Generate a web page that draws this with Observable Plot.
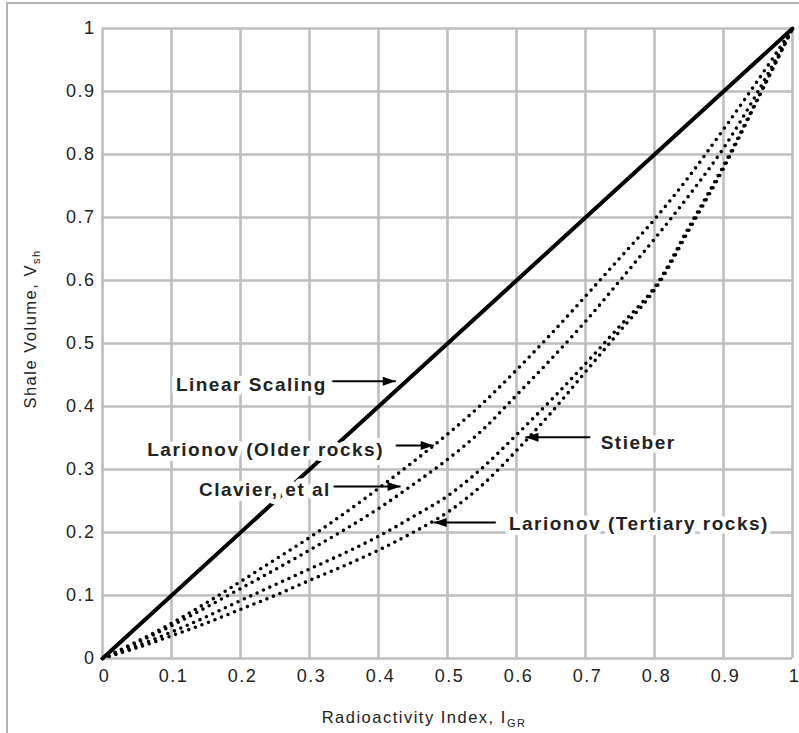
<!DOCTYPE html>
<html><head><meta charset="utf-8">
<script src="https://cdn.jsdelivr.net/npm/d3@7"></script>
<script src="https://cdn.jsdelivr.net/npm/@observablehq/plot@0.6"></script>
<style>
body{margin:0;background:#fff;}
#wrap{position:relative;width:799px;height:733px;overflow:hidden;background:#fff;}
#border{position:absolute;left:6px;top:2px;right:-4px;bottom:-4px;border-left:2px solid #b3b3b3;border-top:2px solid #b3b3b3;pointer-events:none;}
#wrap svg text{letter-spacing:1.5px;}
</style></head><body><div id="wrap"><div id="border"></div></div>
<script>
// ---- data ----
const xTicks = [0, 0.1, 0.2, 0.3, 0.4, 0.5, 0.6, 0.7, 0.8, 0.9, 1];
const xTickLabels = ["0", "0.1", "0.2", "0.3", "0.4", "0.5", "0.6", "0.7", "0.8", "0.9", "1"];
const yTicks = [0, 0.1, 0.2, 0.3, 0.4, 0.5, 0.6, 0.7, 0.8, 0.9, 1];
const yTickLabels = ["0", "0.1", "0.2", "0.3", "0.4", "0.5", "0.6", "0.7", "0.8", "0.9", "1"];

// Radioactivity index sample points
const igr = [0, 0.05, 0.1, 0.15, 0.2, 0.25, 0.3, 0.35, 0.4, 0.45, 0.5, 0.55, 0.6, 0.65, 0.7, 0.75, 0.8, 0.85, 0.9, 0.95, 1];
const linearX = [0, 1];
const linearScaling = [0, 1];
const larionovOlder = [0, 0.027, 0.056, 0.088, 0.122, 0.157, 0.192, 0.23, 0.27, 0.312, 0.356, 0.404, 0.458, 0.515, 0.575, 0.636, 0.697, 0.765, 0.84, 0.918, 1];
const clavier = [0, 0.025, 0.052, 0.081, 0.111, 0.141, 0.172, 0.204, 0.238, 0.276, 0.316, 0.362, 0.418, 0.475, 0.535, 0.6, 0.666, 0.735, 0.81, 0.9, 1];
const stieber = [0, 0.02, 0.042, 0.066, 0.092, 0.117, 0.142, 0.167, 0.194, 0.225, 0.258, 0.302, 0.355, 0.41, 0.468, 0.528, 0.589, 0.685, 0.782, 0.89, 1];
const larionovTertiary = [0, 0.017, 0.036, 0.056, 0.078, 0.1, 0.124, 0.147, 0.172, 0.2, 0.232, 0.275, 0.33, 0.39, 0.455, 0.52, 0.585, 0.68, 0.778, 0.888, 1];

// annotations
const annLabels = ["Linear Scaling", "Larionov (Older rocks)", "Clavier, et al", "Stieber", "Larionov (Tertiary rocks)"];
const annTextX = [0.325, 0.408, 0.331, 0.722, 0.589];
const annTextY = [0.435, 0.331, 0.268, 0.342, 0.214];
const annAnchor = ["end", "end", "end", "start", "start"];
const arrowTailX = [0.333, 0.425, 0.335, 0.707, 0.570];
const arrowHeadX = [0.425, 0.48, 0.432, 0.613, 0.48];
const arrowY = [0.44, 0.338, 0.273, 0.351, 0.216];
const arrowDir = ["right", "right", "right", "left", "left"];

// ---- chart ----
const triRight = {draw(ctx) { ctx.moveTo(0, 0); ctx.lineTo(-13, -4.5); ctx.lineTo(-13, 4.5); ctx.closePath(); }};
const triLeft = {draw(ctx) { ctx.moveTo(0, 0); ctx.lineTo(13, -4.5); ctx.lineTo(13, 4.5); ctx.closePath(); }};
const idx = annLabels.map((_, i) => i);
const dotted = {stroke: "#000", strokeWidth: 3.6, strokeDasharray: "0,7", strokeLinecap: "round", curve: "catmull-rom"};
const annStyle = {fontWeight: "bold", fontSize: 19, fill: "#222", stroke: "#fff", strokeWidth: 10, strokeLinejoin: "round"};

const fmtX = d => xTickLabels[xTicks.indexOf(d)];
const fmtY = d => yTickLabels[yTicks.indexOf(d)];

const chart = Plot.plot({
  width: 799,
  height: 733,
  marginLeft: 102,
  marginRight: 7,
  marginTop: 28,
  marginBottom: 75,
  style: {fontFamily: "'Liberation Sans', Arial, sans-serif", fontSize: "18px", color: "#222", background: "transparent", overflow: "visible"},
  x: {domain: [0, 1], label: null},
  y: {domain: [0, 1], label: null},
  marks: [
    Plot.gridX(xTicks, {stroke: "#bebebe", strokeOpacity: 1, strokeWidth: 2.6}),
    Plot.gridY(yTicks, {stroke: "#bebebe", strokeOpacity: 1, strokeWidth: 2.6}),
    Plot.axisX(xTicks, {tickSize: 0, tickPadding: 11, tickFormat: fmtX, label: null, fill: "#222", dx: 2}),
    Plot.axisY(yTicks, {tickSize: 0, tickPadding: 7, tickFormat: fmtY, label: null, fill: "#222"}),
    Plot.line(linearScaling, {x: (d, i) => linearX[i], y: d => d, stroke: "#000", strokeWidth: 4}),
    Plot.line(larionovOlder, {x: (d, i) => igr[i], y: d => d, ...dotted}),
    Plot.line(clavier, {x: (d, i) => igr[i], y: d => d, ...dotted}),
    Plot.line(stieber, {x: (d, i) => igr[i], y: d => d, ...dotted}),
    Plot.line(larionovTertiary, {x: (d, i) => igr[i], y: d => d, ...dotted}),
    Plot.text(idx.filter(i => annAnchor[i] === "end"), {x: i => annTextX[i], y: i => annTextY[i], text: i => annLabels[i], textAnchor: "end", ...annStyle}),
    Plot.text(idx.filter(i => annAnchor[i] === "start"), {x: i => annTextX[i], y: i => annTextY[i], text: i => annLabels[i], textAnchor: "start", ...annStyle}),
    Plot.link(idx, {x1: i => arrowTailX[i], x2: i => arrowHeadX[i], y1: i => arrowY[i], y2: i => arrowY[i], stroke: "#000", strokeWidth: 2}),
    Plot.dot(idx.filter(i => arrowDir[i] === "right"), {x: i => arrowHeadX[i], y: i => arrowY[i], symbol: triRight, fill: "#000", stroke: "none"}),
    Plot.dot(idx.filter(i => arrowDir[i] === "left"), {x: i => arrowHeadX[i], y: i => arrowY[i], symbol: triLeft, fill: "#000", stroke: "none"})
  ]
});

const svg = d3.select(chart);
const xt = svg.append("text").attr("x", 424).attr("y", 723).attr("text-anchor", "middle")
  .attr("font-size", 16.5).attr("fill", "#222");
xt.append("tspan").text("Radioactivity Index, I");
xt.append("tspan").attr("font-size", 11).attr("dy", 4).text("GR");

const yt = svg.append("text").attr("transform", "translate(36,329) rotate(-90)").attr("text-anchor", "middle")
  .attr("font-size", 16.5).attr("fill", "#222");
yt.append("tspan").text("Shale Volume, V");
yt.append("tspan").attr("font-size", 11).attr("dy", 4).text("sh");

document.getElementById("wrap").appendChild(chart);
</script>
</body></html>
